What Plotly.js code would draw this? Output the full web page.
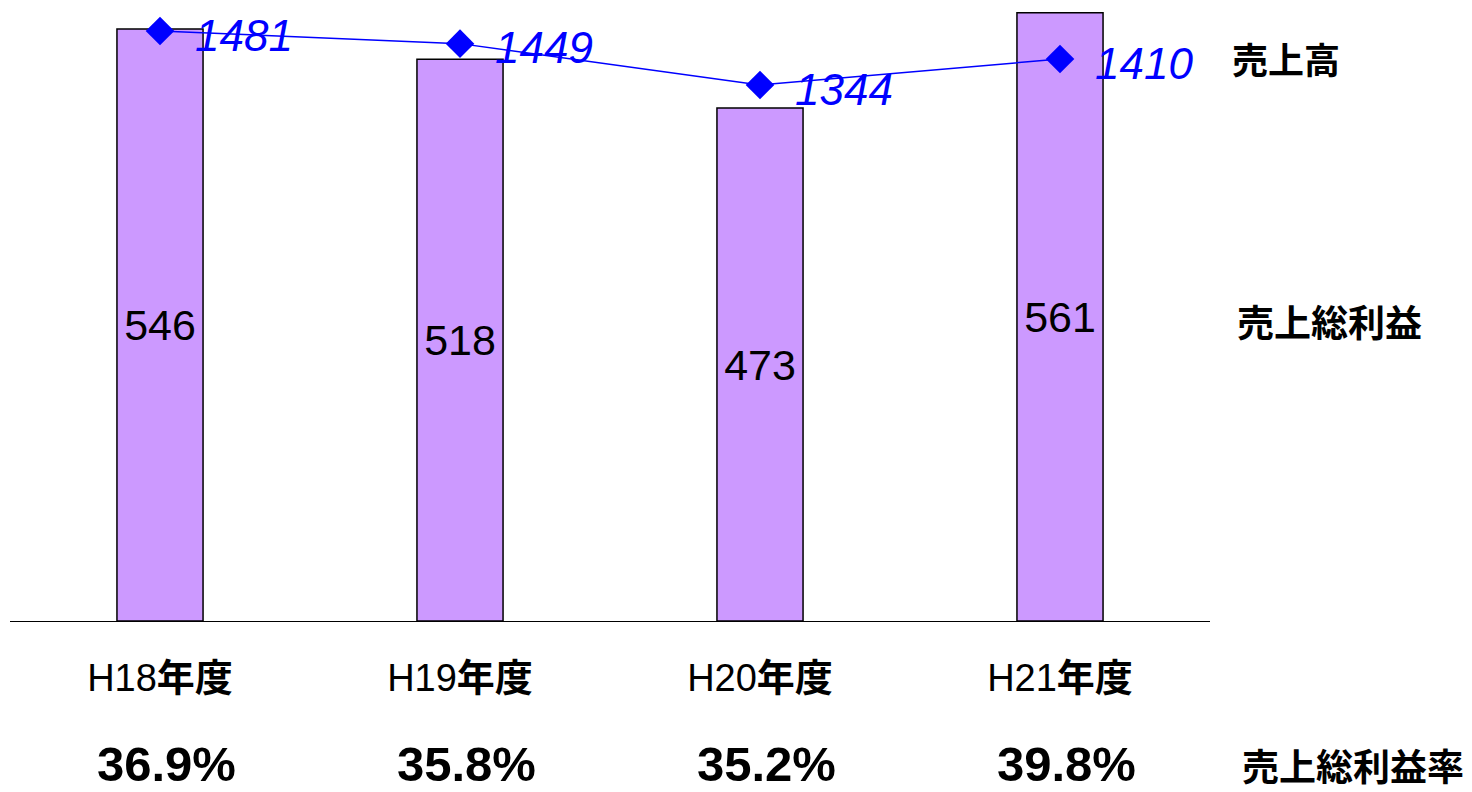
<!DOCTYPE html>
<html>
<head>
<meta charset="utf-8">
<script src="https://cdn.plot.ly/plotly-3.0.1.min.js"></script>
<style>html,body{margin:0;padding:0;background:#fff;}#chart{width:1472px;height:792px;}</style>
</head>
<body>
<div id="chart"></div>
<script>
const categories = ["H18年度", "H19年度", "H20年度", "H21年度"];
const grossProfit = [546, 518, 473, 561];
const sales = [1481, 1449, 1344, 1410];
const marginRate = ["36.9%", "35.8%", "35.2%", "39.8%"];
const seriesNames = ["売上高", "売上総利益", "売上総利益率"];

const FONT = "Liberation Sans, Arial, Noto Sans CJK JP, sans-serif";

const barTrace = {
  type: "bar",
  x: categories,
  y: grossProfit,
  width: 0.287,
  marker: { color: "#CC99FF", line: { color: "#000000", width: 1.5 } },
  text: grossProfit.map(String),
  textposition: "inside",
  insidetextanchor: "middle",
  constraintext: "none",
  textfont: { family: FONT, size: 43, color: "#000000" },
  hoverinfo: "skip",
  showlegend: false
};

const lineTrace = {
  type: "scatter",
  mode: "lines+markers",
  x: categories,
  y: sales,
  yaxis: "y2",
  line: { color: "#0000FF", width: 1.5 },
  marker: { symbol: "diamond", size: 22, color: "#0000FF" },
  hoverinfo: "skip",
  showlegend: false
};

const annotations = [];
sales.forEach((v, i) => {
  annotations.push({
    xref: "x", yref: "y2", x: categories[i], y: v,
    text: "<i>" + v + "</i>", showarrow: false,
    xanchor: "left", yanchor: "middle", xshift: 33, yshift: -4,
    font: { family: FONT, size: 44, color: "#0000FF" }
  });
});
marginRate.forEach((t, i) => {
  annotations.push({
    xref: "x", yref: "paper", x: categories[i], y: 0,
    text: "<b>" + t + "</b>", showarrow: false,
    xanchor: "center", yanchor: "middle", xshift: 6, yshift: -143,
    font: { family: FONT, size: 49, color: "#000000" }
  });
});
annotations.push({
  xref: "paper", yref: "paper", x: 1, y: 0.9075, text: "<b>" + seriesNames[0] + "</b>",
  showarrow: false, xanchor: "left", yanchor: "middle", xshift: 20,
  font: { family: FONT, size: 36, color: "#000000" }
});
annotations.push({
  xref: "paper", yref: "paper", x: 1, y: 0.482, text: "<b>" + seriesNames[1] + "</b>",
  showarrow: false, xanchor: "left", yanchor: "middle", xshift: 25,
  font: { family: FONT, size: 37, color: "#000000" }
});
annotations.push({
  xref: "paper", yref: "paper", x: 1, y: 0, text: "<b>" + seriesNames[2] + "</b>",
  showarrow: false, xanchor: "left", yanchor: "middle", xshift: 30, yshift: -147,
  font: { family: FONT, size: 37, color: "#000000" }
});

const layout = {
  width: 1472,
  height: 792,
  margin: { l: 10, r: 262, t: 5, b: 171, pad: 0 },
  paper_bgcolor: "#ffffff",
  plot_bgcolor: "#ffffff",
  showlegend: false,
  xaxis: {
    type: "category",
    range: [-0.5, 3.5],
    showline: true, linecolor: "#000000", linewidth: 1,
    showgrid: false, zeroline: false, ticks: "",
    tickmode: "array",
    tickvals: categories,
    ticktext: categories.map(c => c.replace("年度", "<b>年度</b>")),
    ticklabelstandoff: 23,
    tickfont: { family: FONT, size: 38, color: "#000000" }
  },
  yaxis: {
    range: [0, 568.05],
    showgrid: false, zeroline: false, showticklabels: false, showline: false, ticks: ""
  },
  yaxis2: {
    overlaying: "y", side: "right",
    range: [-15.7, 1547],
    showgrid: false, zeroline: false, showticklabels: false, showline: false, ticks: ""
  },
  annotations: annotations
};

Plotly.newPlot("chart", [barTrace, lineTrace], layout, { displayModeBar: false, staticPlot: true });
</script>
</body>
</html>
